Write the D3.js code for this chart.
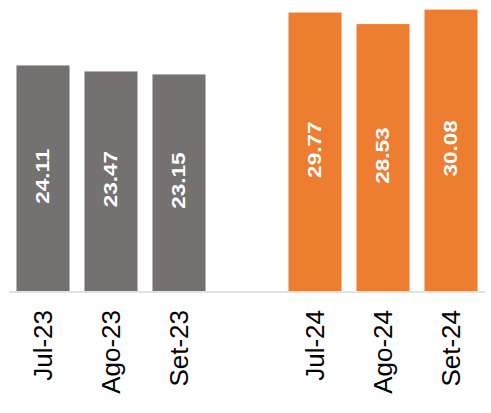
<!DOCTYPE html>
<html>
<head>
<meta charset="utf-8">
<script src="https://cdn.jsdelivr.net/npm/d3@7"></script>
<style>
  body { margin: 0; background: #fff; }
  svg text { font-family: "Liberation Sans", Arial, sans-serif; }
</style>
</head>
<body>
<svg id="chart"></svg>
<script>
/*
    LAYOUT
*/
var width = 491;
var height = 413;

/*
    DATA
*/
var months23 = ["Jul-23", "Ago-23", "Set-23"];
var values23 = [24.11, 23.47, 23.15];
var months24 = ["Jul-24", "Ago-24", "Set-24"];
var values24 = [29.77, 28.53, 30.08];

var gray = "#767171";
var orange = "#ED7D31";

// one empty slot between the two years
var slots = months23.concat(["gap"], months24);

var rows = months23.map(function(m, i) { return {label: m, value: values23[i], color: gray}; })
  .concat(months24.map(function(m, i) { return {label: m, value: values24[i], color: orange}; }));

var svg = d3.select("#chart")
  .attr("width", width)
  .attr("height", height);

var x = d3.scaleBand()
  .domain(slots)
  .range([9, 485])
  .paddingInner(0.22)
  .paddingOuter(0.11);

var y = d3.scaleLinear()
  .domain([0, 31])
  .range([291, 1]);

// bars
svg.selectAll(".bar")
  .data(rows)
  .enter().append("rect")
  .attr("class", "bar")
  .attr("x", function(d) { return x(d.label); })
  .attr("y", function(d) { return y(d.value); })
  .attr("width", x.bandwidth())
  .attr("height", function(d) { return y(0) - y(d.value); })
  .style("fill", function(d) { return d.color; });

// baseline
svg.append("line")
  .attr("x1", x.range()[0])
  .attr("x2", x.range()[1])
  .attr("y1", y(0) + 1)
  .attr("y2", y(0) + 1)
  .style("stroke", "#d9d9d9")
  .style("stroke-width", 1.5);

// value labels inside bars
svg.selectAll(".val")
  .data(rows)
  .enter().append("text")
  .attr("class", "val")
  .attr("transform", function(d) {
    var cx = x(d.label) + x.bandwidth() / 2;
    var cy = (y(d.value) + y(0)) / 2 - 2;
    return "translate(" + cx + "," + cy + ") rotate(-90) scale(1.25,1)";
  })
  .attr("dy", "0.35em")
  .style("text-anchor", "middle")
  .style("font-weight", "bold")
  .style("font-size", "18px")
  .style("fill", "#fff")
  .text(function(d) { return d.value.toFixed(2); });

// category labels
svg.selectAll(".cat")
  .data(rows)
  .enter().append("text")
  .attr("class", "cat")
  .attr("transform", function(d) {
    return "translate(" + (x(d.label) + x.bandwidth() / 2) + ",310) rotate(-90)";
  })
  .attr("dy", "0.35em")
  .style("text-anchor", "end")
  .style("font-size", "26px")
  .style("fill", "#000")
  .text(function(d) { return d.label; });
</script>
</body>
</html>
